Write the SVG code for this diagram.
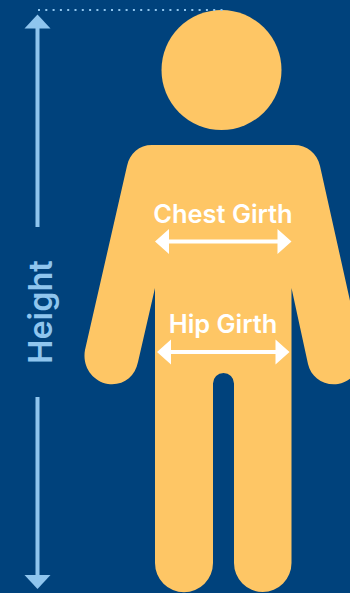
<svg xmlns="http://www.w3.org/2000/svg" width="350" height="593" viewBox="0 0 350 593">
<style>
.lbl{font-family:"Inter","Liberation Sans",sans-serif;font-weight:600;text-anchor:middle}
.w{fill:#fff}.wl{stroke:#fff;stroke-width:4;fill:none}
.b{fill:#8fc5ee}.bl{stroke:#8fc5ee;stroke-width:4;fill:none}
</style>
<rect id="background" width="350" height="593" fill="#00427c"/>
<g id="figure" fill="#fec665">
<circle id="head" cx="221.500" cy="70" r="60"/>
<path id="body" d="M152 145H294C307 145 317 153 320 166L361 350C364 366 354 381 338 384C323 386 311 377 308 364L291.500 288V563A28.700 29 0 0 1 234 563V383.500A10.500 10.500 0 0 0 213 383.500V563A28.800 29 0 0 1 155 563V288L138 362C135 377 123 386 108 384C92 381 82 366 85 350L127 166C130 153 139 145 152 145Z"/>
</g>
<g id="connectors">
<path class="bl" d="M37.500 227V27"/><path class="b" d="M37.500 14.500L50.500 28.500H24.500Z"/>
<path class="bl" d="M37.500 397V576"/><path class="b" d="M37.500 589L50.500 575H24.500Z"/>
<path d="M38 10H224" stroke="#8fc5ee" stroke-width="2" stroke-dasharray="2 5.300" fill="none"/>
<path class="wl" d="M165 241.500H281"/><path class="w" d="M155 241.500L169 229V254ZM291.500 241.500L277.500 229V254Z"/>
<path class="wl" d="M167 352H280"/><path class="w" d="M157 352L171 339.500V364.500ZM289.500 352L275.500 339.500V364.500Z"/>
</g>
<g id="labels">
<text class="lbl w" x="223" y="222.500" font-size="25.400">Chest Girth</text>
<text class="lbl w" x="223" y="332.500" font-size="25.400">Hip Girth</text>
<text class="lbl b" transform="translate(52 312) rotate(-90)" font-size="32.500">Height</text>
</g>
</svg>
